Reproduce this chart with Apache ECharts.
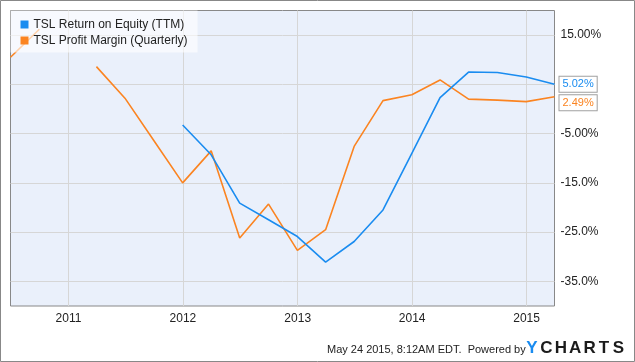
<!DOCTYPE html>
<html>
<head>
<meta charset="utf-8">
<script src="https://cdn.jsdelivr.net/npm/echarts@6/dist/echarts.min.js"></script>
<style>
html,body{margin:0;padding:0;background:#fff;}
#chart{width:635px;height:362px;}
</style>
</head>
<body>
<div id="chart"></div>
<script>
// ---- data ----
var quarterDates = ['2010-06-30','2010-09-30','2010-12-31','2011-03-31','2011-06-30','2011-09-30','2011-12-31',
  '2012-03-31','2012-06-30','2012-09-30','2012-12-31','2013-03-31','2013-06-30','2013-09-30','2013-12-31',
  '2014-03-31','2014-06-30','2014-09-30','2014-12-31','2015-03-31'];
var roeValues = [null, null, null, null, null, null, -3.26,
  -9.3, -19.1, -22.5, -25.9, -31.1, -26.9, -20.5, -9.0,
  2.3, 7.5, 7.4, 6.5, 5.02];
var marginValues = [10.5, 16.2, null, 8.6, 2.2, -6.4, -15.0,
  -8.5, -26.2, -19.3, -28.7, -24.5, -7.6, 1.7, 2.9,
  5.9, 2.0, 1.8, 1.5, 2.49];
var seriesNames = ['TSL Return on Equity (TTM)', 'TSL Profit Margin (Quarterly)'];
var yTickValues = [-35, -25, -15, -5, 5, 15];
var yTickLabels = ['-35.0%', '-25.0%', '-15.0%', '-5.00%', '5.00%', '15.00%'];
var xTickYears = [2011, 2012, 2013, 2014, 2015];
var footerText = 'May 24 2015, 8:12AM EDT.  Powered by';

// ---- build ----
var FONT = "'Liberation Sans', Arial, sans-serif";
var BLUE = '#1a8cf0', ORANGE = '#fb8421';
function toTime(s) { var p = s.split('-'); return new Date(+p[0], +p[1] - 1, +p[2]).getTime(); }
function pairs(vals) { return quarterDates.map(function (d, i) { return [toTime(d), vals[i]]; }); }
var xTicks = xTickYears.map(function (y) { return new Date(y, 0, 1).getTime(); });
var xMin = toTime('2010-06-30');
var xMax = toTime('2015-03-31');

function endLabel(color, offY) {
  return {
    show: true,
    formatter: function (p) { return p.value[1].toFixed(2) + '%'; },
    color: color, fontSize: 11, fontFamily: FONT,
    backgroundColor: '#fff', borderColor: '#a0a0a0', borderWidth: 1,
    padding: [2, 3, 2, 3], distance: 5, offset: [0, offY]
  };
}

var logoLetters = ['Y','C','H','A','R','T','S'];
var graphics = [{
  type: 'rect', shape: { x: 0.5, y: 0.5, width: 634, height: 361 },
  style: { fill: 'none', stroke: '#888', lineWidth: 1 }, z: 100
}, {
  type: 'text', x: 327, y: 350,
  style: { text: footerText, font: '11px ' + FONT, fill: '#222', verticalAlign: 'middle' }
}];
logoLetters.forEach(function (ch, i) {
  graphics.push({
    type: 'text', x: 532 + i * 14.4, y: 348.5,
    style: { text: ch, font: 'bold 17px ' + FONT, fill: i === 0 ? BLUE : '#1b1b1b',
      align: 'center', verticalAlign: 'middle' }
  });
});

var chart = echarts.init(document.getElementById('chart'), null, { renderer: 'canvas' });
chart.setOption({
  animation: false,
  backgroundColor: '#fff',
  color: [BLUE, ORANGE],
  grid: {
    left: 10.5, top: 10.5, right: 80.5, bottom: 56,
    show: true, backgroundColor: '#eaf0fb', borderColor: '#888', borderWidth: 1,
    containLabel: false
  },
  legend: {
    data: seriesNames.map(function (n) { return { name: n, icon: 'rect' }; }),
    orient: 'vertical', left: 10.5, top: 10.5,
    backgroundColor: 'rgba(255,255,255,0.62)',
    padding: [8, 10, 6, 10], itemGap: 4, itemWidth: 8, itemHeight: 8,
    textStyle: { fontSize: 12, fontFamily: FONT, color: '#222' },
    selectedMode: false
  },
  xAxis: {
    type: 'value', min: xMin, max: xMax,
    axisLine: { show: false },
    axisTick: { show: false, customValues: xTicks },
    axisLabel: {
      customValues: xTicks, fontSize: 12, fontFamily: FONT, color: '#222', margin: 7,
      formatter: function (v) { return String(new Date(v).getFullYear()); }
    },
    splitLine: { show: true, lineStyle: { color: '#d6d6d6', width: 1 } }
  },
  yAxis: {
    type: 'value', position: 'right', min: -40, max: 20,
    axisLine: { show: false },
    axisTick: { show: false, customValues: yTickValues },
    axisLabel: {
      customValues: yTickValues, fontSize: 12, fontFamily: FONT, color: '#222', margin: 6,
      formatter: function (v) {
        var i = yTickValues.indexOf(Math.round(v));
        return i >= 0 ? yTickLabels[i] : '';
      }
    },
    splitLine: { show: true, lineStyle: { color: '#d6d6d6', width: 1 } }
  },
  series: [{
    name: seriesNames[0], type: 'line', data: pairs(roeValues),
    showSymbol: false, symbol: 'none', connectNulls: false,
    lineStyle: { width: 1.6, color: BLUE },
    endLabel: endLabel(BLUE, 0), z: 3
  }, {
    name: seriesNames[1], type: 'line', data: pairs(marginValues),
    showSymbol: false, symbol: 'none', connectNulls: false,
    lineStyle: { width: 1.6, color: ORANGE },
    endLabel: endLabel(ORANGE, 6), z: 2
  }],
  graphic: graphics
});
</script>
</body>
</html>
